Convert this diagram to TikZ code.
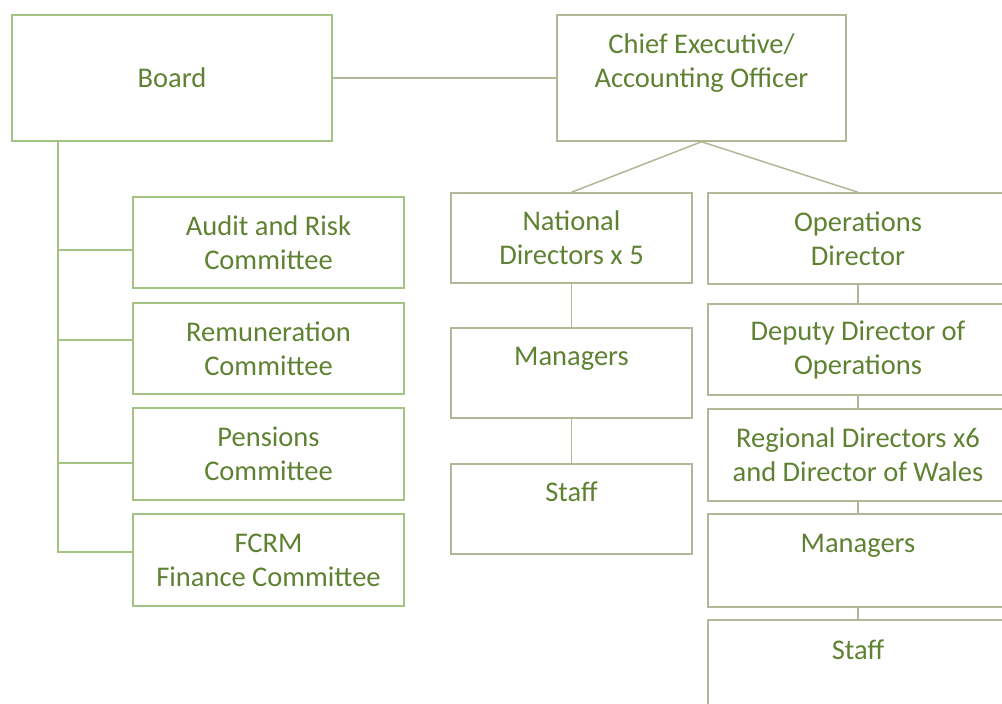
\documentclass[tikz,border=0pt]{standalone}
\usepackage{fontspec}
\setmainfont{Carlito}
\definecolor{txtgreen}{HTML}{5F8232}
\definecolor{lgreen}{HTML}{A3C283}
\definecolor{olivegray}{HTML}{B4B697}
\begin{document}
\begin{tikzpicture}[x=1pt,y=-1pt,
  box/.style={draw, line width=1.5pt, inner sep=0pt, align=center,
    text=txtgreen, font=\fontsize{28.5}{34}\selectfont},
  gbox/.style={box, draw=lgreen},
  obox/.style={box, draw=olivegray},
  gline/.style={draw=lgreen, line width=1.5pt},
  oline/.style={draw=olivegray, line width=1.5pt}]
\useasboundingbox (0,0) rectangle (1002,704);
\clip (0,0) rectangle (1002,704);
% top level
\node[gbox, minimum width=320pt, minimum height=126pt] (board) at (172,78) {Board};
\node[obox, minimum width=289pt, minimum height=126pt] (chief) at (701.5,78) {Chief Executive/\\Accounting Officer\\\mbox{}};
% committees
\node[gbox, minimum width=271pt, minimum height=91pt] (audit) at (268.5,242.5) {Audit and Risk\\Committee};
\node[gbox, minimum width=271pt, minimum height=91pt] (remun) at (268.5,348.5) {Remuneration\\Committee};
\node[gbox, minimum width=271pt, minimum height=92pt] (pens) at (268.5,454) {Pensions\\Committee};
\node[gbox, minimum width=271pt, minimum height=92pt] (fcrm) at (268.5,560) {FCRM\\Finance Committee};
% national column
\node[obox, minimum width=241pt, minimum height=90pt] (natdir) at (571.5,238) {National\\Directors x 5};
\node[obox, minimum width=241pt, minimum height=90pt] (manl) at (571.5,373) {Managers\\\mbox{}};
\node[obox, minimum width=241pt, minimum height=90pt] (staffl) at (571.5,509) {Staff\\\mbox{}};
% operations column
\node[obox, minimum width=300pt, minimum height=91pt] (ops) at (858,238.5) {Operations\\Director};
\node[obox, minimum width=300pt, minimum height=91pt] (deputy) at (858,349.5) {Deputy Director of\\Operations};
\node[obox, minimum width=300pt, minimum height=92pt] (regional) at (858,455) {Regional Directors x6\\and Director of Wales};
\node[obox, minimum width=300pt, minimum height=93pt] (manr) at (858,560.5) {Managers\\\mbox{}};
\node[obox, minimum width=300pt, minimum height=93pt] (staffr) at (858,666.5) {Staff\\\mbox{}};
% connectors
\draw[oline] (board.east) -- (chief.west);
\coordinate (bt) at (58,141);
\draw[gline] (bt) |- (fcrm.west |- 0,552);
\draw[gline] (bt |- 0,250) -- (audit.west |- 0,250);
\draw[gline] (bt |- 0,340) -- (remun.west |- 0,340);
\draw[gline] (bt |- 0,463) -- (pens.west |- 0,463);
\draw[oline] (chief.south) -- (natdir.north);
\draw[oline] (chief.south) -- (ops.north);
\draw[oline] (natdir) -- (manl);
\draw[oline] (manl) -- (staffl);
\draw[oline] (ops.south) -- (deputy.north);
\draw[oline] (deputy.south) -- (regional.north);
\draw[oline] (regional.south) -- (manr.north);
\draw[oline] (manr.south) -- (staffr.north);
\end{tikzpicture}
\end{document}
